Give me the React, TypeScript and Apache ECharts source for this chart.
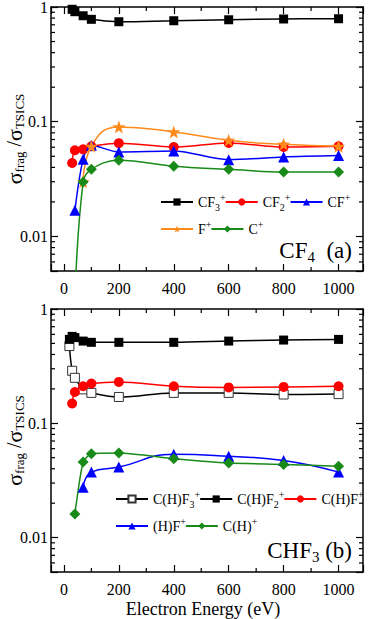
import React, { useEffect, useRef } from 'react';
import * as echarts from 'echarts';

const FONT = "'Liberation Serif', 'Times New Roman', serif";

// ---------- panel (a): CF4 ----------
const cf3Energy = [30, 40, 70, 100, 200, 400, 600, 800, 1000];
const cf3Value = [0.955, 0.91, 0.839, 0.781, 0.744, 0.759, 0.774, 0.786, 0.79];
const cf2Energy = [30, 40, 70, 100, 200, 400, 600, 800, 1000];
const cf2Value = [0.0437, 0.0564, 0.0575, 0.061, 0.065, 0.0602, 0.0653, 0.0602, 0.0611];
const cfEnergy = [40, 70, 100, 200, 400, 600, 800, 1000];
const cfValue = [0.0169, 0.047, 0.0623, 0.0545, 0.0556, 0.0467, 0.0493, 0.0507];
const fEnergy = [70, 100, 200, 400, 600, 800, 1000];
const fValue = [0.03, 0.061, 0.0901, 0.0815, 0.0689, 0.0636, 0.061];
const cEnergy = [40, 70, 100, 200, 400, 600, 800, 1000];
const cValue = [0.0028, 0.0298, 0.0385, 0.0461, 0.0409, 0.0385, 0.0364, 0.0364];

// ---------- panel (b): CHF3 ----------
const chf3Energy = [20, 30, 40, 70, 100, 200, 400, 600, 800, 1000];
const chf3Value = [0.474, 0.288, 0.25, 0.198, 0.1845, 0.17, 0.1845, 0.1845, 0.1786, 0.18];
const chf2Energy = [20, 30, 40, 70, 100, 200, 400, 600, 800, 1000];
const chf2Value = [0.542, 0.576, 0.562, 0.524, 0.511, 0.511, 0.511, 0.524, 0.535, 0.542];
const chfEnergy = [30, 40, 70, 100, 200, 400, 600, 800, 1000];
const chfValue = [0.149, 0.188, 0.211, 0.223, 0.23, 0.211, 0.206, 0.208, 0.211];
const hfEnergy = [70, 100, 200, 400, 600, 800, 1000];
const hfValue = [0.0276, 0.0374, 0.0414, 0.0535, 0.0514, 0.0473, 0.0374];
const chEnergy = [40, 70, 100, 200, 400, 600, 800, 1000];
const chValue = [0.0161, 0.0458, 0.0542, 0.0549, 0.049, 0.0449, 0.0437, 0.042];

// ---------- axes ----------
const xMin = -47;
const xMax = 1089;
const yMin = 0.005;
const yMax = 1;
const xTickValues = [0, 200, 400, 600, 800, 1000];
const xTickLabels = ['0', '200', '400', '600', '800', '1000'];
const yTickValues = [0.01, 0.1, 1];
const yTickLabels = ['0.01', '0.1', '1'];
const xAxisTitle = 'Electron Energy (eV)';
const yAxisTitle = '{s|σ}{b|frag}{t| /}{s|σ}{b|TSICS}';
const xMinorTicks = [100, 300, 500, 700, 900];
const yMinorTicks = [
  0.006, 0.007, 0.008, 0.009,
  0.02, 0.03, 0.04, 0.05, 0.06, 0.07, 0.08, 0.09,
  0.2, 0.3, 0.4, 0.5, 0.6, 0.7, 0.8, 0.9,
];

const STAR =
  'path://M50,2 L61.8,35.2 L97,35.9 L69,57.6 L79.4,91.3 L50,71 L20.6,91.3 L31,57.6 L3,35.9 L38.2,35.2 Z';

const BLACK = '#000000';
const RED = '#ff0000';
const BLUE = '#0000ff';
const ORANGE = '#ff8a1c';
const GREEN = '#178a17';

function pairs(e: number[], v: number[]) {
  return e.map((x, i) => [x, v[i]]);
}

const legendRich = {
  n: { fontFamily: FONT, fontSize: 14, color: '#000', lineHeight: 20, verticalAlign: 'middle' },
  sub: { fontFamily: FONT, fontSize: 10, color: '#000', lineHeight: 10, verticalAlign: 'bottom' },
  sup: { fontFamily: FONT, fontSize: 10, color: '#000', lineHeight: 10, verticalAlign: 'top' },
};

function legendFormatter(name: string) {
  const m = name.match(/^(.*?)(\d?)\+$/);
  if (!m) return name;
  return `{n|${m[1]}}` + (m[2] ? `{sub|${m[2]}}` : '') + '{sup|+}';
}

const labelRich = {
  v: { fontFamily: FONT, fontSize: 16, color: '#000', lineHeight: 18, verticalAlign: 'middle' },
  e: { fontFamily: FONT, fontSize: 18, color: '#000', lineHeight: 20, verticalAlign: 'middle' },
  s: { fontFamily: FONT, fontSize: 22, color: '#000', lineHeight: 24, verticalAlign: 'middle' },
  b: { fontFamily: FONT, fontSize: 13, color: '#000', lineHeight: 13, verticalAlign: 'bottom' },
  t: { fontFamily: FONT, fontSize: 20, color: '#000', lineHeight: 24, verticalAlign: 'middle' },
};

function xAxisFor(grid: number, top: boolean) {
  return {
    type: 'value',
    gridIndex: grid,
    position: top ? 'top' : 'bottom',
    min: xMin,
    max: xMax,
    splitNumber: 5,
    axisLine: { show: true, onZero: false, lineStyle: { color: '#000', width: 1.5 } },
    axisTick: { show: true, inside: true, length: 7, lineStyle: { color: '#000', width: 1.2 } },
    splitLine: { show: false },
    axisLabel: { show: false },
  };
}

function yAxisFor(grid: number, right: boolean) {
  return {
    type: 'log',
    logBase: 10,
    gridIndex: grid,
    position: right ? 'right' : 'left',
    min: yMin,
    max: yMax,
    axisLine: { show: true, onZero: false, lineStyle: { color: '#000', width: 1.5 } },
    axisTick: { show: true, inside: true, length: 7, lineStyle: { color: '#000', width: 1.2 } },
    splitLine: { show: false },
    minorTick: { show: false },
    axisLabel: { show: false },
  };
}

function tickSeries(xi: number, yi: number, withTitle: boolean) {
  const style = { stroke: '#000', lineWidth: 1.2 };
  const list: any[] = [
    {
      type: 'custom',
      silent: true,
      xAxisIndex: xi,
      yAxisIndex: yi,
      data: xMinorTicks.map((t) => [t, 0.1]),
      renderItem: (params: any, api: any) => {
        const cs = params.coordSys;
        const x = api.coord([api.value(0), 0.1])[0];
        const top = cs.y;
        const bot = cs.y + cs.height;
        return {
          type: 'group',
          children: [
            { type: 'line', shape: { x1: x, y1: bot, x2: x, y2: bot - 4 }, style },
            { type: 'line', shape: { x1: x, y1: top, x2: x, y2: top + 4 }, style },
          ],
        };
      },
    },
    {
      type: 'custom',
      silent: true,
      xAxisIndex: xi,
      yAxisIndex: yi,
      data: yMinorTicks.map((t) => [0, t]),
      renderItem: (params: any, api: any) => {
        const cs = params.coordSys;
        const y = api.coord([0, api.value(1)])[1];
        const l = cs.x;
        const r = cs.x + cs.width;
        return {
          type: 'group',
          children: [
            { type: 'line', shape: { x1: l, y1: y, x2: l + 4, y2: y }, style },
            { type: 'line', shape: { x1: r, y1: y, x2: r - 4, y2: y }, style },
          ],
        };
      },
    },
    // x tick labels
    {
      type: 'custom',
      silent: true,
      clip: false,
      xAxisIndex: xi,
      yAxisIndex: yi,
      data: xTickValues.map((t, i) => [t, 0.1, i]),
      renderItem: (params: any, api: any) => {
        const cs = params.coordSys;
        const x = api.coord([api.value(0), 0.1])[0];
        const i = api.value(2);
        return {
          type: 'text',
          x,
          y: cs.y + cs.height + 17,
          style: {
            text: `{v|${xTickLabels[i]}}`,
            rich: labelRich,
            align: 'center',
            verticalAlign: 'middle',
          },
        };
      },
    },
    // y tick labels
    {
      type: 'custom',
      silent: true,
      clip: false,
      xAxisIndex: xi,
      yAxisIndex: yi,
      data: yTickValues.map((t, i) => [0, t, i]),
      renderItem: (params: any, api: any) => {
        const cs = params.coordSys;
        const y = api.coord([0, api.value(1)])[1];
        const i = api.value(2);
        return {
          type: 'text',
          x: cs.x - 3,
          y,
          style: {
            text: `{v|${yTickLabels[i]}}`,
            rich: labelRich,
            align: 'right',
            verticalAlign: 'middle',
          },
        };
      },
    },
    // y axis title (rotated)
    {
      type: 'custom',
      silent: true,
      clip: false,
      xAxisIndex: xi,
      yAxisIndex: yi,
      data: [[0, 0.1]],
      renderItem: (params: any) => {
        const cs = params.coordSys;
        return {
          type: 'text',
          x: cs.x - 37,
          y: cs.y + cs.height / 2,
          rotation: Math.PI / 2,
          style: {
            text: yAxisTitle,
            rich: labelRich,
            align: 'center',
            verticalAlign: 'middle',
          },
        };
      },
    },
  ];
  if (withTitle) {
    list.push({
      type: 'custom',
      silent: true,
      clip: false,
      xAxisIndex: xi,
      yAxisIndex: yi,
      data: [[0, 0.1]],
      renderItem: (params: any) => {
        const cs = params.coordSys;
        return {
          type: 'text',
          x: cs.x + cs.width / 2 - 4,
          y: cs.y + cs.height + 37,
          style: {
            text: `{e|${xAxisTitle}}`,
            rich: labelRich,
            align: 'center',
            verticalAlign: 'middle',
          },
        };
      },
    });
  }
  return list;
}

function lineSeries(
  name: string,
  xi: number,
  data: number[][],
  color: string,
  symbol: string,
  size: number,
  smooth: number,
  open = false
) {
  return {
    type: 'line',
    name,
    xAxisIndex: xi,
    yAxisIndex: xi,
    data,
    smooth,
    symbol,
    symbolSize: size,
    showAllSymbol: true,
    clip: true,
    lineStyle: { color, width: 1.5 },
    itemStyle: open
      ? { color: '#ffffff', borderColor: '#333', borderWidth: 1 }
      : { color, borderColor: color, borderWidth: 0 },
    z: 3,
  };
}

function legendFor(left: number, top: number, data: string[]) {
  return {
    left,
    top,
    width: 360,
    orient: 'horizontal',
    data,
    itemWidth: 32,
    itemHeight: 9,
    itemGap: -1,
    padding: 0,
    selectedMode: false,
    formatter: legendFormatter,
    textStyle: { rich: legendRich },
  };
}

const panelRich = {
  a: { fontFamily: FONT, fontSize: 23, fontWeight: 'normal', color: '#000', lineHeight: 28, verticalAlign: 'middle' },
  s: { fontFamily: FONT, fontSize: 15, fontWeight: 'normal', color: '#000', lineHeight: 15, verticalAlign: 'bottom' },
};

export default function App() {
  const ref = useRef<HTMLDivElement>(null);

  useEffect(() => {
    if (!ref.current) return;
    const chart = echarts.init(ref.current, null, { renderer: 'svg' });
    const option: any = {
      animation: false,
      backgroundColor: '#ffffff',
      textStyle: { fontFamily: FONT },
      title: [
        {
          text: '{a|CF}{s|4}{a|  (a)}',
          right: 16,
          top: 236,
          padding: 0,
          textStyle: { rich: panelRich, fontWeight: 'normal', fontFamily: FONT },
        },
        {
          text: '{a|CHF}{s|3}{a| (b)}',
          right: 16,
          top: 536,
          padding: 0,
          textStyle: { rich: panelRich, fontWeight: 'normal', fontFamily: FONT },
        },
      ],
      grid: [
        { left: 51, top: 7, width: 312, height: 264, containLabel: false },
        { left: 51, top: 309, width: 312, height: 263, containLabel: false },
      ],
      xAxis: [xAxisFor(0, false), xAxisFor(0, true), xAxisFor(1, false), xAxisFor(1, true)],
      yAxis: [yAxisFor(0, false), yAxisFor(0, true), yAxisFor(1, false), yAxisFor(1, true)],
      legend: [
        legendFor(160, 192, ['CF3+', 'CF2+', 'CF+']),
        legendFor(160, 219, ['F+', 'C+']),
        legendFor(115, 489, ['C(H)F3+', 'C(H)F2+', 'C(H)F+']),
        legendFor(115, 516, ['(H)F+', 'C(H)+']),
      ],
      series: [
        ...tickSeries(0, 0, false),
        ...tickSeries(2, 2, true),
        lineSeries('CF3+', 0, pairs(cf3Energy, cf3Value), BLACK, 'rect', 9, 0.4),
        lineSeries('CF2+', 0, pairs(cf2Energy, cf2Value), RED, 'circle', 10, 0.3),
        lineSeries('CF+', 0, pairs(cfEnergy, cfValue), BLUE, 'triangle', 11, 0.3),
        lineSeries('F+', 0, pairs(fEnergy, fValue), ORANGE, STAR, 13, 0.5),
        lineSeries('C+', 0, pairs(cEnergy, cValue), GREEN, 'diamond', 11, 0.4),
        lineSeries('C(H)F3+', 2, pairs(chf3Energy, chf3Value), BLACK, 'rect', 9, 0.4, true),
        lineSeries('C(H)F2+', 2, pairs(chf2Energy, chf2Value), BLACK, 'rect', 9, 0.3),
        lineSeries('C(H)F+', 2, pairs(chfEnergy, chfValue), RED, 'circle', 10, 0.3),
        lineSeries('(H)F+', 2, pairs(hfEnergy, hfValue), BLUE, 'triangle', 11, 0.5),
        lineSeries('C(H)+', 2, pairs(chEnergy, chValue), GREEN, 'diamond', 11, 0.2),
      ],
    };
    chart.setOption(option);
    return () => chart.dispose();
  }, []);

  return <div ref={ref} style={{ width: 368, height: 619, position: 'absolute', left: 0, top: 0 }} />;
}
